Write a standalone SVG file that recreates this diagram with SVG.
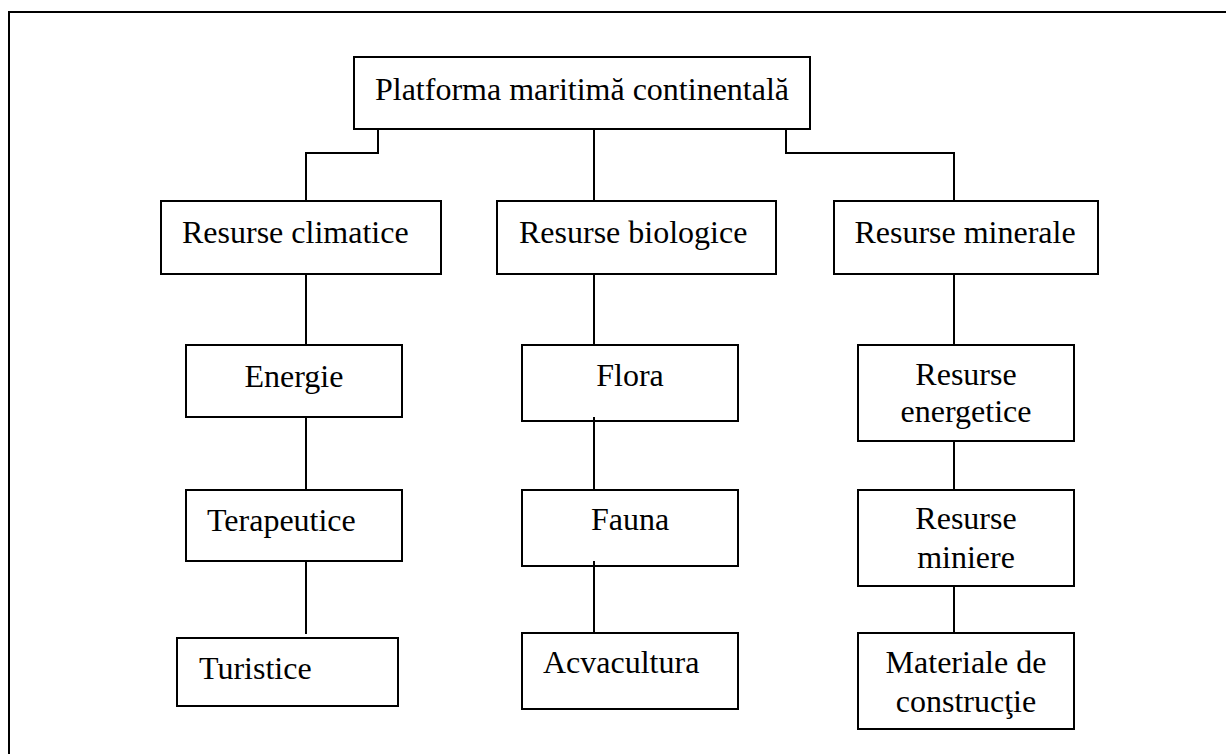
<svg xmlns="http://www.w3.org/2000/svg" width="1226" height="754" viewBox="0 0 1226 754">
<style>
.box{fill:#fff;stroke:#000;stroke-width:2}
.ln{fill:none;stroke:#000;stroke-width:2}
.t{font-family:"Liberation Serif","Times New Roman",serif;font-size:32px;fill:#000}
.c{text-anchor:middle}
</style>
<rect width="1226" height="754" fill="#fff"/>
<path class="ln" d="M9,754 V12 H1226" stroke-width="2.5"/>
<g id="root"><rect class="box" x="354" y="57" width="456" height="72"/><text class="t c" x="582" y="100">Platforma maritimă continentală</text></g>
<g id="climatice"><rect class="box" x="161" y="201" width="280" height="73"/><text class="t" x="182" y="243">Resurse climatice</text></g>
<g id="biologice"><rect class="box" x="497" y="201" width="279" height="73"/><text class="t" x="519" y="243">Resurse biologice</text></g>
<g id="minerale"><rect class="box" x="834" y="201" width="264" height="73"/><text class="t c" x="965" y="243">Resurse minerale</text></g>
<g id="energie"><rect class="box" x="186" y="345" width="216" height="72"/><text class="t c" x="294" y="387">Energie</text></g>
<g id="terapeutice"><rect class="box" x="186" y="490" width="216" height="71"/><text class="t" x="207" y="531">Terapeutice</text></g>
<g id="turistice"><rect class="box" x="177" y="638" width="221" height="68"/><text class="t" x="199" y="679">Turistice</text></g>
<g id="flora"><rect class="box" x="522" y="345" width="216" height="76"/><text class="t c" x="630" y="386">Flora</text></g>
<g id="fauna"><rect class="box" x="522" y="490" width="216" height="76"/><text class="t c" x="630" y="530">Fauna</text></g>
<g id="acvacultura"><rect class="box" x="522" y="633" width="216" height="76"/><text class="t" x="543" y="673">Acvacultura</text></g>
<g id="energetice"><rect class="box" x="858" y="345" width="216" height="96"/><text class="t c" x="966" y="385">Resurse</text><text class="t c" x="966" y="422">energetice</text></g>
<g id="miniere"><rect class="box" x="858" y="490" width="216" height="96"/><text class="t c" x="966" y="529">Resurse</text><text class="t c" x="966" y="568">miniere</text></g>
<g id="materiale"><rect class="box" x="858" y="633" width="216" height="96"/><text class="t c" x="966" y="673">Materiale de</text><text class="t c" x="966" y="712">construcţie</text></g>
<g id="connectors">
<path class="ln" d="M378,129 V153 H306 V201"/>
<path class="ln" d="M594,129 V201"/>
<path class="ln" d="M786,129 V153 H954 V201"/>
<path class="ln" d="M306,274 V345 M306,417 V490 M306,561 V634"/>
<path class="ln" d="M594,274 V345 M594,417 V490 M594,561 V633"/>
<path class="ln" d="M954,274 V345 M954,441 V490 M954,586 V633"/>
</g>
</svg>
